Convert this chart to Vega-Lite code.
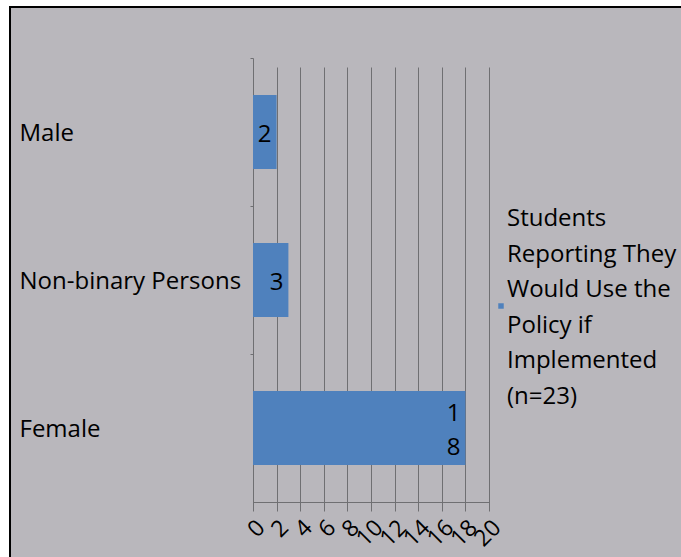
{
  "$schema": "https://vega.github.io/schema/vega-lite/v6.json",
  "width": 676,
  "height": 555,
  "autosize": "none",
  "padding": {"left": 10, "top": 7, "right": -5, "bottom": -5},
  "background": "#ffffff",
  "config": {
    "font": "Open Sans",
    "view": {"fill": "#b9b7bc", "stroke": "#000000", "strokeWidth": 2}
  },
  "data": {
    "values": [
      {"gender": "Male", "count": 2, "series": "Students\nReporting They\nWould Use the\nPolicy if\nImplemented\n(n=23)"},
      {"gender": "Non-binary Persons", "count": 3, "series": "Students\nReporting They\nWould Use the\nPolicy if\nImplemented\n(n=23)"},
      {"gender": "Female", "count": 18, "series": "Students\nReporting They\nWould Use the\nPolicy if\nImplemented\n(n=23)"}
    ]
  },
  "encoding": {
    "y": {
      "field": "gender",
      "type": "nominal",
      "sort": null,
      "scale": {
        "domain": ["Male", "Non-binary Persons", "Female"],
        "range": [51, 495],
        "paddingInner": 0.5,
        "paddingOuter": 0.25
      },
      "axis": {
        "title": null,
        "orient": "left",
        "offset": -243,
        "domainColor": "#6f6f72",
        "tickColor": "#6f6f72",
        "tickSize": 3,
        "bandPosition": -0.5,
        "labelAlign": "left",
        "labelPadding": 231,
        "labelOffset": 2,
        "labelLimit": 300,
        "labelFont": "Open Sans",
        "labelFontSize": 24,
        "labelColor": "#000000"
      }
    },
    "x": {
      "field": "count",
      "type": "quantitative",
      "scale": {"domain": [0, 20], "range": [243, 479], "nice": false, "zero": true},
      "axis": {
        "title": null,
        "orient": "bottom",
        "offset": -60,
        "values": [0, 2, 4, 6, 8, 10, 12, 14, 16, 18, 20],
        "labelOverlap": false,
        "grid": true,
        "gridColor": "#6f6f72",
        "gridWidth": 1,
        "gridOpacity": 1,
        "ticks": false,
        "domainColor": "#6f6f72",
        "labelAngle": -45,
        "labelFont": "Open Sans",
        "labelFontSize": 23,
        "labelColor": "#000000",
        "labelPadding": 14
      }
    }
  },
  "layer": [
    {
      "mark": {"type": "bar"},
      "encoding": {
        "color": {
          "field": "series",
          "type": "nominal",
          "scale": {"range": ["#4f81bd"]},
          "legend": {
            "orient": "none",
            "legendX": 479,
            "legendY": 287,
            "title": null,
            "padding": 0,
            "symbolType": "square",
            "symbolSize": 30,
            "symbolStrokeWidth": 0,
            "labelFont": "Open Sans",
            "labelFontSize": 24,
            "labelColor": "#000000",
            "labelLimit": 400,
            "labelOffset": -6,
            "encode": {
              "labels": {
                "update": {
                  "lineBreak": {"value": "\n"},
                  "lineHeight": {"value": 35.5},
                  "dy": {"value": -87}
                }
              }
            }
          }
        }
      }
    },
    {
      "mark": {
        "type": "text",
        "align": "right",
        "baseline": "middle",
        "dx": -5,
        "font": "Open Sans",
        "fontSize": 24,
        "color": "#000000",
        "lineHeight": 34,
        "lineBreak": {"expr": "regexp('\\\\B')"},
        "dy": {"expr": "3 - (length(format(datum.count, 'd')) - 1) * 17"}
      },
      "encoding": {
        "text": {"field": "count", "type": "quantitative"}
      }
    }
  ]
}
